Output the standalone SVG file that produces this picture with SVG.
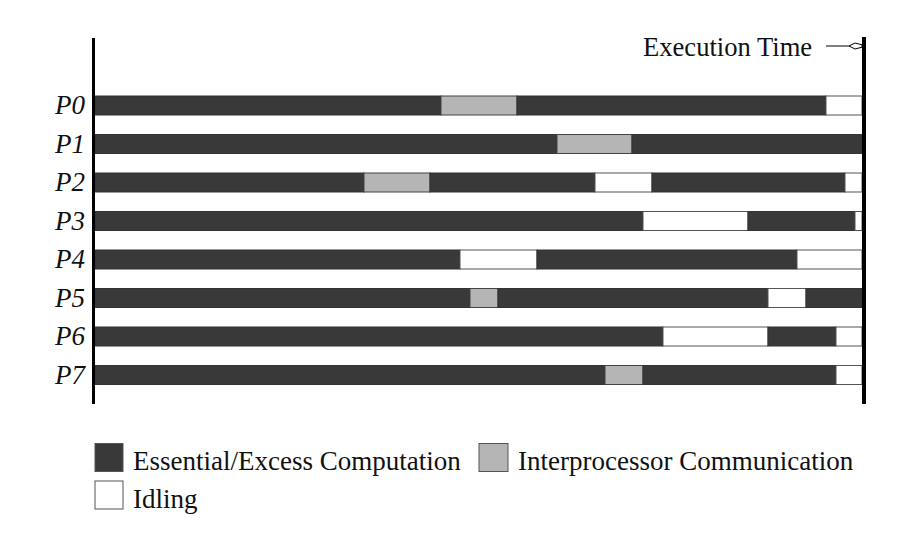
<svg xmlns="http://www.w3.org/2000/svg" width="901" height="537" viewBox="0 0 901 537">
<style>
.d{fill:#393939;stroke:#333;stroke-width:1}
.g{fill:#b5b5b5;stroke:#444;stroke-width:1}
.w{fill:#fff;stroke:#555;stroke-width:1}
.lbl{font-family:"Liberation Serif","Times New Roman",serif;font-style:italic;font-size:27px;fill:#111}
.txt{font-family:"Liberation Serif","Times New Roman",serif;font-size:27px;fill:#111}
.ax{stroke:#000;fill:none}
</style>
<rect width="901" height="537" fill="#fff"/>
<g id="P0">
<text class="lbl" x="55" y="114">P0</text>
<rect class="d" x="95" y="96" width="346" height="19"/><rect class="g" x="441" y="96" width="76" height="19"/><rect class="d" x="517" y="96" width="309" height="19"/><rect class="w" x="826" y="96" width="36" height="19"/>
</g>
<g id="P1">
<text class="lbl" x="55" y="152.5">P1</text>
<rect class="d" x="95" y="134.5" width="462" height="19"/><rect class="g" x="557" y="134.5" width="75" height="19"/><rect class="d" x="632" y="134.5" width="230" height="19"/>
</g>
<g id="P2">
<text class="lbl" x="55" y="191">P2</text>
<rect class="d" x="95" y="173" width="269" height="19"/><rect class="g" x="364" y="173" width="66" height="19"/><rect class="d" x="430" y="173" width="165" height="19"/><rect class="w" x="595" y="173" width="57" height="19"/><rect class="d" x="652" y="173" width="193" height="19"/><rect class="w" x="845" y="173" width="17" height="19"/>
</g>
<g id="P3">
<text class="lbl" x="55" y="229.5">P3</text>
<rect class="d" x="95" y="211.5" width="548" height="19"/><rect class="w" x="643" y="211.5" width="105" height="19"/><rect class="d" x="748" y="211.5" width="107" height="19"/><rect class="w" x="855" y="211.5" width="7" height="19"/>
</g>
<g id="P4">
<text class="lbl" x="55" y="268">P4</text>
<rect class="d" x="95" y="250" width="365" height="19"/><rect class="w" x="460" y="250" width="77" height="19"/><rect class="d" x="537" y="250" width="260" height="19"/><rect class="w" x="797" y="250" width="65" height="19"/>
</g>
<g id="P5">
<text class="lbl" x="55" y="306.5">P5</text>
<rect class="d" x="95" y="288.5" width="375" height="19"/><rect class="g" x="470" y="288.5" width="28" height="19"/><rect class="d" x="498" y="288.5" width="270" height="19"/><rect class="w" x="768" y="288.5" width="38" height="19"/><rect class="d" x="806" y="288.5" width="56" height="19"/>
</g>
<g id="P6">
<text class="lbl" x="55" y="345">P6</text>
<rect class="d" x="95" y="327" width="568" height="19"/><rect class="w" x="663" y="327" width="105" height="19"/><rect class="d" x="768" y="327" width="68" height="19"/><rect class="w" x="836" y="327" width="26" height="19"/>
</g>
<g id="P7">
<text class="lbl" x="55" y="383.5">P7</text>
<rect class="d" x="95" y="365.5" width="510" height="19"/><rect class="g" x="605" y="365.5" width="38" height="19"/><rect class="d" x="643" y="365.5" width="193" height="19"/><rect class="w" x="836" y="365.5" width="26" height="19"/>
</g>
<g id="connectors">
<line class="ax" x1="93.5" y1="38" x2="93.5" y2="404" stroke-width="3"/>
<line class="ax" x1="864" y1="37" x2="864" y2="404" stroke-width="4"/>
<line class="ax" x1="826" y1="46" x2="850" y2="46" stroke-width="1"/>
<polygon points="849,46 855,43 862,44.8 862,47.2 855,49" fill="#fff" stroke="#000" stroke-width="1"/>
</g>
<g id="time-label">
<text class="txt" x="643" y="56" style="font-size:26.6px">Execution Time</text>
</g>
<g id="legend">
<rect x="95" y="443.5" width="28" height="28" fill="#393939" stroke="#555" stroke-width="1"/>
<text class="txt" x="133" y="470">Essential/Excess Computation</text>
<rect x="479" y="443.5" width="29" height="28" fill="#b5b5b5" stroke="#555" stroke-width="1"/>
<text class="txt" x="518" y="470">Interprocessor Communication</text>
<rect x="95" y="481" width="28" height="28" fill="#fff" stroke="#555" stroke-width="1"/>
<text class="txt" x="133" y="508">Idling</text>
</g>
</svg>
